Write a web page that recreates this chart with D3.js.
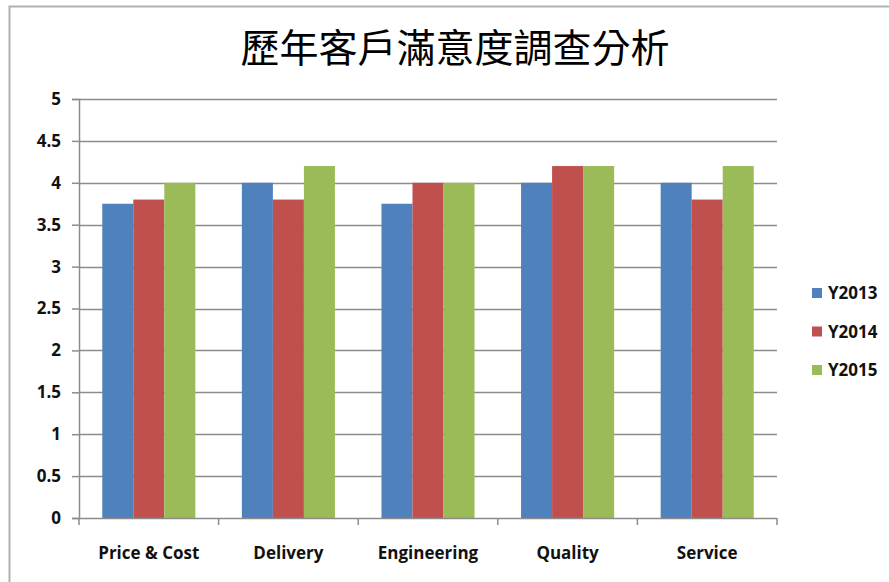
<!DOCTYPE html>
<html>
<head>
<meta charset="utf-8">
<script src="https://cdn.jsdelivr.net/npm/d3@7"></script>
<style>
  body { margin: 0; background: #fff; }
  svg { display: block; }
  .lbl { font-family: "Open Sans", Lato, sans-serif; font-weight: bold; fill: #111; }
</style>
</head>
<body>
<svg id="chart"></svg>
<script>
// chart data
const categories = ["Price & Cost", "Delivery", "Engineering", "Quality", "Service"];
const seriesNames = ["Y2013", "Y2014", "Y2015"];
const y2013 = [3.75, 4, 3.75, 4, 4];
const y2014 = [3.8, 3.8, 4, 4.2, 3.8];
const y2015 = [4, 4.2, 4, 4.2, 4.2];
const yTicks = [0, 0.5, 1, 1.5, 2, 2.5, 3, 3.5, 4, 4.5, 5];
const colors = ["#4F81BD", "#C0504D", "#9BBB59"];

const width = 889, height = 582;
const plotLeft = 79, plotRight = 777, plotTop = 99, plotBottom = 518;

const svg = d3.select('svg#chart')
    .attr('width', width)
    .attr('height', height);

// outer frame (cut off at right and bottom)
svg.append('path')
    .attr('d', `M9.5,${height} L9.5,6.5 L${width},6.5`)
    .attr('fill', 'none')
    .attr('stroke', '#b0b0b0')
    .attr('stroke-width', 2);

// title
svg.append('text')
    .attr('x', 455)
    .attr('y', 62)
    .attr('text-anchor', 'middle')
    .style('font-family', '"Noto Sans CJK TC", sans-serif')
    .style('font-size', '39px')
    .style('fill', '#000')
    .text('歷年客戶滿意度調查分析');

const x0 = d3.scaleBand()
    .domain(categories)
    .range([plotLeft, plotRight])
    .paddingInner(0)
    .paddingOuter(0);

// bar width so that gap = 1.5 bar widths
const barW = x0.bandwidth() / 4.5;
const x1 = d3.scaleBand()
    .domain(seriesNames)
    .range([barW * 0.75, barW * 3.75]);

const y = d3.scaleLinear()
    .domain([0, 5])
    .range([plotBottom, plotTop]);

// gridlines
svg.append('g')
    .selectAll('line')
    .data(yTicks.filter(d => d > 0))
    .join('line')
    .attr('x1', plotLeft)
    .attr('x2', plotRight)
    .attr('y1', d => Math.round(y(d)) + 0.5)
    .attr('y2', d => Math.round(y(d)) + 0.5)
    .attr('stroke', '#8c8c8c')
    .attr('stroke-width', 1.5);

// y axis
const yAxis = svg.append('g')
    .attr('transform', `translate(${plotLeft},0)`)
    .call(d3.axisLeft(y).tickValues(yTicks).tickSize(7).tickPadding(11).tickFormat(d => d));
yAxis.select('.domain').attr('stroke', '#8c8c8c').attr('stroke-width', 1.5);
yAxis.selectAll('.tick line').attr('stroke', '#8c8c8c').attr('stroke-width', 1.5);
yAxis.selectAll('.tick text')
    .attr('class', 'lbl')
    .style('font-size', '17px');

// bars
const rows = seriesNames.map((s, i) => ({ name: s, values: [y2013, y2014, y2015][i], color: colors[i] }));

svg.append('g')
    .selectAll('g')
    .data(rows)
    .join('g')
    .attr('fill', d => d.color)
    .selectAll('rect')
    .data(d => d.values.map((v, j) => ({ cat: categories[j], v: v, s: d.name })))
    .join('rect')
    .attr('x', d => x0(d.cat) + x1(d.s))
    .attr('y', d => y(d.v))
    .attr('width', x1.bandwidth())
    .attr('height', d => y(0) - y(d.v));

// x axis
const xAxis = svg.append('g')
    .attr('transform', `translate(0,${plotBottom})`);
xAxis.append('line')
    .attr('x1', plotLeft).attr('x2', plotRight)
    .attr('y1', 0.5).attr('y2', 0.5)
    .attr('stroke', '#8c8c8c').attr('stroke-width', 1.5);
xAxis.selectAll('line.tk')
    .data(d3.range(categories.length + 1))
    .join('line')
    .attr('class', 'tk')
    .attr('x1', i => plotLeft + i * x0.step())
    .attr('x2', i => plotLeft + i * x0.step())
    .attr('y1', 0).attr('y2', 7)
    .attr('stroke', '#8c8c8c').attr('stroke-width', 1.5);
xAxis.selectAll('text')
    .data(categories)
    .join('text')
    .attr('class', 'lbl')
    .attr('x', d => x0(d) + x0.bandwidth() / 2)
    .attr('y', 41)
    .attr('text-anchor', 'middle')
    .style('font-size', '17px')
    .text(d => d);

// legend
const legend = svg.append('g')
    .selectAll('g')
    .data(rows)
    .join('g')
    .attr('transform', (d, i) => `translate(812,${293 + i * 38.5})`);
legend.append('rect')
    .attr('x', 0).attr('y', -5)
    .attr('width', 10).attr('height', 10)
    .attr('fill', d => d.color);
legend.append('text')
    .attr('class', 'lbl')
    .attr('x', 16)
    .attr('y', 6)
    .style('font-size', '17px')
    .text(d => d.name);
</script>
</body>
</html>
